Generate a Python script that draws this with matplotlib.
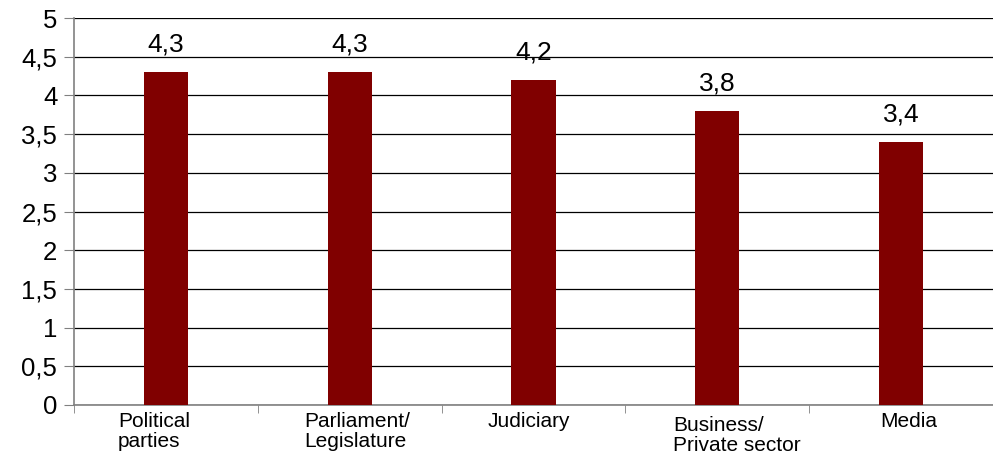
import numpy as np
import matplotlib.pyplot as plt
from matplotlib.transforms import ScaledTranslation

# Data
categories = ['Political\nparties', 'Parliament/\nLegislature', 'Judiciary',
              'Business/\nPrivate sector', 'Media']
values = [4.3, 4.3, 4.2, 3.8, 3.4]
value_labels = ['4,3', '4,3', '4,2', '3,8', '3,4']
y_ticks = [0, 0.5, 1, 1.5, 2, 2.5, 3, 3.5, 4, 4.5, 5]
y_tick_labels = ['0', '0,5', '1', '1,5', '2', '2,5', '3', '3,5', '4', '4,5', '5']

plt.rcParams['font.family'] = ['Liberation Sans', 'DejaVu Sans']

fig = plt.figure(figsize=(9.93, 4.57), dpi=100)
ax = fig.add_axes([74/993, 1 - 405/457, 919/993, 387/457])

x = np.arange(len(categories))
ax.bar(x, values, width=0.24, color='#800000', zorder=3)

for xi, v, lab in zip(x, values, value_labels):
    ax.annotate(lab, (xi, v), xytext=(0, 11), textcoords='offset points',
                ha='center', va='bottom', fontsize=19)

ax.set_xlim(-0.5, -0.5 + 919/186)
ax.set_ylim(0, 5)
ax.set_yticks(y_ticks)
ax.set_yticklabels(y_tick_labels, fontsize=18.5)
ax.yaxis.grid(True, color='black', linewidth=0.9, zorder=0)

# category labels under the bars, boundary ticks between them
ax.set_xticks(x)
ax.set_xticklabels(categories, fontsize=15, multialignment='left',
                   linespacing=1.1)
ax.tick_params(axis='x', which='major', length=0, pad=5)
# the original labels sit a little off-centre
shifts = [(-12, 0), (7, 0), (-5, 0), (20, -4), (8, 0)]
for lbl, (dx, dy) in zip(ax.get_xticklabels(), shifts):
    lbl.set_transform(lbl.get_transform() +
                      ScaledTranslation(dx/100, dy/100, fig.dpi_scale_trans))
ax.set_xticks(np.arange(-0.5, 4.6, 1), minor=True)
ax.tick_params(axis='x', which='minor', length=6, color='#808080', direction='out')
ax.tick_params(axis='y', length=7, color='#808080', direction='out', pad=5)

for side in ['top', 'right']:
    ax.spines[side].set_visible(False)
for side in ['left', 'bottom']:
    ax.spines[side].set_color('#808080')
    ax.spines[side].set_linewidth(1.2)

plt.savefig('out.png', dpi=100)
